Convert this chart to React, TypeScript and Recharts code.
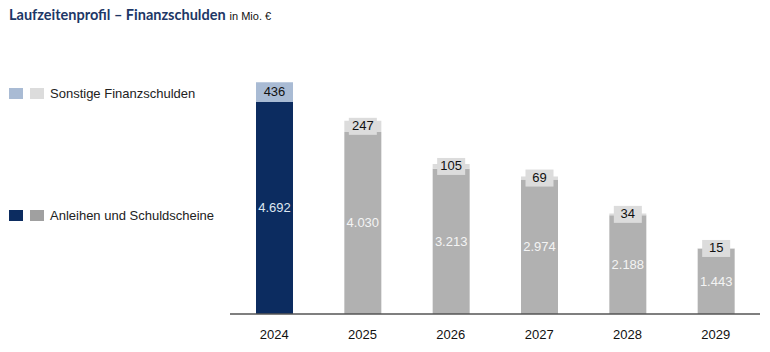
import React from "react";
import { BarChart, Bar, XAxis, YAxis, Cell, LabelList } from "recharts";

const years = ["2024", "2025", "2026", "2027", "2028", "2029"];
const bonds = [4692, 4030, 3213, 2974, 2188, 1443];
const other = [436, 247, 105, 69, 34, 15];
const bondLabels = ["4.692", "4.030", "3.213", "2.974", "2.188", "1.443"];

const bondColors = ["#0c2c60", "#b1b1b1", "#b1b1b1", "#b1b1b1", "#b1b1b1", "#b1b1b1"];
const otherColors = ["#a9bbd4", "#dcdcdc", "#dcdcdc", "#dcdcdc", "#dcdcdc", "#dcdcdc"];
const bondTextColors = ["#dfe7f2", "#f4f4f4", "#f4f4f4", "#f4f4f4", "#f4f4f4", "#f4f4f4"];

const legendItems = [
  { label: "Sonstige Finanzschulden", colors: ["#a9bbd4", "#dcdcdc"], top: 86 },
  { label: "Anleihen und Schuldscheine", colors: ["#0c2c60", "#a0a0a0"], top: 208 },
];

const data = years.map((y, i) => ({ year: y, bonds: bonds[i], other: other[i] }));

const font = "'Liberation Sans', Arial, sans-serif";

function OtherLabel(props: any) {
  const { x, y, width, height, index, value } = props;
  const cx = x + width / 2;
  const cy = y + height / 2;
  return (
    <g>
      <rect x={cx - 14} y={cy - 8.5} width={28} height={17} fill={otherColors[index]} />
      <text x={cx} y={cy + 0.5} textAnchor="middle" dominantBaseline="middle" fontSize={13} fill="#111" fontFamily={font}>
        {value}
      </text>
    </g>
  );
}

function BondLabel(props: any) {
  const { x, y, width, height, index } = props;
  return (
    <text
      x={x + width / 2}
      y={y + height / 2 + 1}
      textAnchor="middle"
      dominantBaseline="middle"
      fontSize={13}
      fill={bondTextColors[index]}
      fontFamily={font}
    >
      {bondLabels[index]}
    </text>
  );
}

export default function App() {
  return (
    <div style={{ position: "absolute", left: 0, top: 0, width: 770, height: 352, background: "#fff", fontFamily: font }}>
      <div style={{ position: "absolute", left: 9, top: 6, whiteSpace: "nowrap" }}>
        <span style={{ fontFamily: "Lato, sans-serif", fontWeight: 700, fontSize: 14.5, color: "#1d3766" }}>
          Laufzeitenprofil – Finanzschulden
        </span>
        <span style={{ fontSize: 11, color: "#111", marginLeft: 4 }}>in Mio. €</span>
      </div>
      {legendItems.map((item) => (
        <div key={item.label} style={{ position: "absolute", left: 9, top: item.top, display: "flex", alignItems: "center" }}>
          <span style={{ width: 14, height: 11, background: item.colors[0], display: "inline-block" }} />
          <span style={{ width: 14, height: 11, background: item.colors[1], display: "inline-block", marginLeft: 7 }} />
          <span style={{ fontSize: 13, color: "#222", marginLeft: 6 }}>{item.label}</span>
        </div>
      ))}
      <BarChart width={770} height={352} data={data} margin={{ top: 70, right: 10, bottom: 8, left: 230 }} barSize={37}>
        <XAxis
          dataKey="year"
          height={30}
          tickLine={false}
          axisLine={{ stroke: "#555", strokeWidth: 1.5 }}
          tick={{ fill: "#111", fontSize: 13, fontFamily: font }}
          tickMargin={10}
        />
        <YAxis hide domain={[0, 5400]} />
        <Bar dataKey="bonds" stackId="a" isAnimationActive={false}>
          {data.map((d, i) => (
            <Cell key={d.year} fill={bondColors[i]} />
          ))}
          <LabelList dataKey="bonds" content={<BondLabel />} />
        </Bar>
        <Bar dataKey="other" stackId="a" isAnimationActive={false}>
          {data.map((d, i) => (
            <Cell key={d.year} fill={otherColors[i]} />
          ))}
          <LabelList dataKey="other" content={<OtherLabel />} />
        </Bar>
      </BarChart>
    </div>
  );
}
